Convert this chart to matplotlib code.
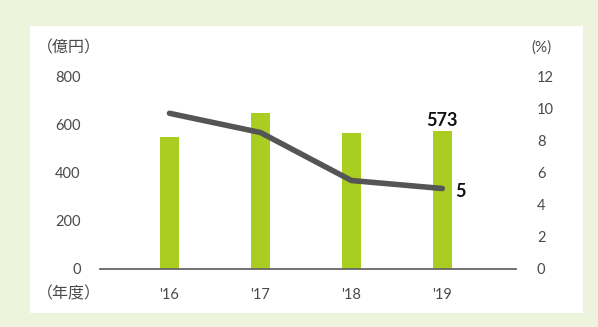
import matplotlib.pyplot as plt
from matplotlib.patches import Rectangle

plt.rcParams['font.family'] = ['Lato', 'Noto Sans CJK JP', 'DejaVu Sans']

years = ["'16", "'17", "'18", "'19"]
sales = [549, 648, 565, 573]          # 億円
ratio = [9.7, 8.5, 5.5, 5.0]          # %

bar_color = '#aacd22'
line_color = '#555555'
text_color = '#4a4a4a'

fig = plt.figure(figsize=(5.98, 3.27), dpi=100)
fig.patch.set_facecolor('#eef4dc')
# white panel
fig.patches.append(Rectangle((30 / 598, 1 - 313 / 327), 553 / 598, 287 / 327,
                             transform=fig.transFigure, facecolor='white',
                             edgecolor='none', zorder=-10))

ax = fig.add_axes([100 / 598, 1 - 268.5 / 327, 416 / 598, 192 / 327])
ax.set_facecolor('none')
x = range(len(years))
ax.bar(x, sales, width=0.21, color=bar_color, zorder=2)
ax.set_xlim(-0.764, 3.81)
ax.set_ylim(0, 800)
ax.set_yticks([0, 200, 400, 600, 800])
ax.set_xticks(list(x))
ax.set_xticklabels(years)
for s in ['top', 'right', 'left']:
    ax.spines[s].set_visible(False)
ax.spines['bottom'].set_color('#666666')
ax.spines['bottom'].set_linewidth(1.3)
ax.spines['bottom'].set_zorder(3)
ax.tick_params(axis='both', length=0, labelsize=10.5, colors=text_color)
ax.tick_params(axis='y', pad=14)
ax.tick_params(axis='x', pad=14)

ax2 = ax.twinx()
ax2.plot(x, ratio, color=line_color, linewidth=4, solid_capstyle='round',
         solid_joinstyle='round', zorder=4)
ax2.set_ylim(0, 12)
ax2.set_yticks(range(0, 13, 2))
for s in ax2.spines.values():
    s.set_visible(False)
ax2.tick_params(axis='y', length=0, labelsize=10.5, colors=text_color, pad=15)

ax.annotate(str(sales[-1]), (3, sales[-1]), xytext=(0, 1.5), textcoords='offset points',
            ha='center', va='bottom', fontsize=13, fontweight='bold', color='#111111')
ax2.annotate(f'{ratio[-1]:g}', (3, ratio[-1]), xytext=(9, -2), textcoords='offset points',
             ha='left', va='center', fontsize=13, fontweight='bold', color='#111111')

fig.text(37 / 598, 1 - 48 / 327, '（億円）', ha='left', va='center', fontsize=11.5, color=text_color)
fig.text(37 / 598, 1 - 294 / 327, '（年度）', ha='left', va='center', fontsize=11.5, color=text_color)
fig.text(541 / 598, 1 - 48 / 327, '(%)', ha='center', va='center', fontsize=11, color=text_color)

fig.savefig('out.png', dpi=100, facecolor=fig.get_facecolor())
